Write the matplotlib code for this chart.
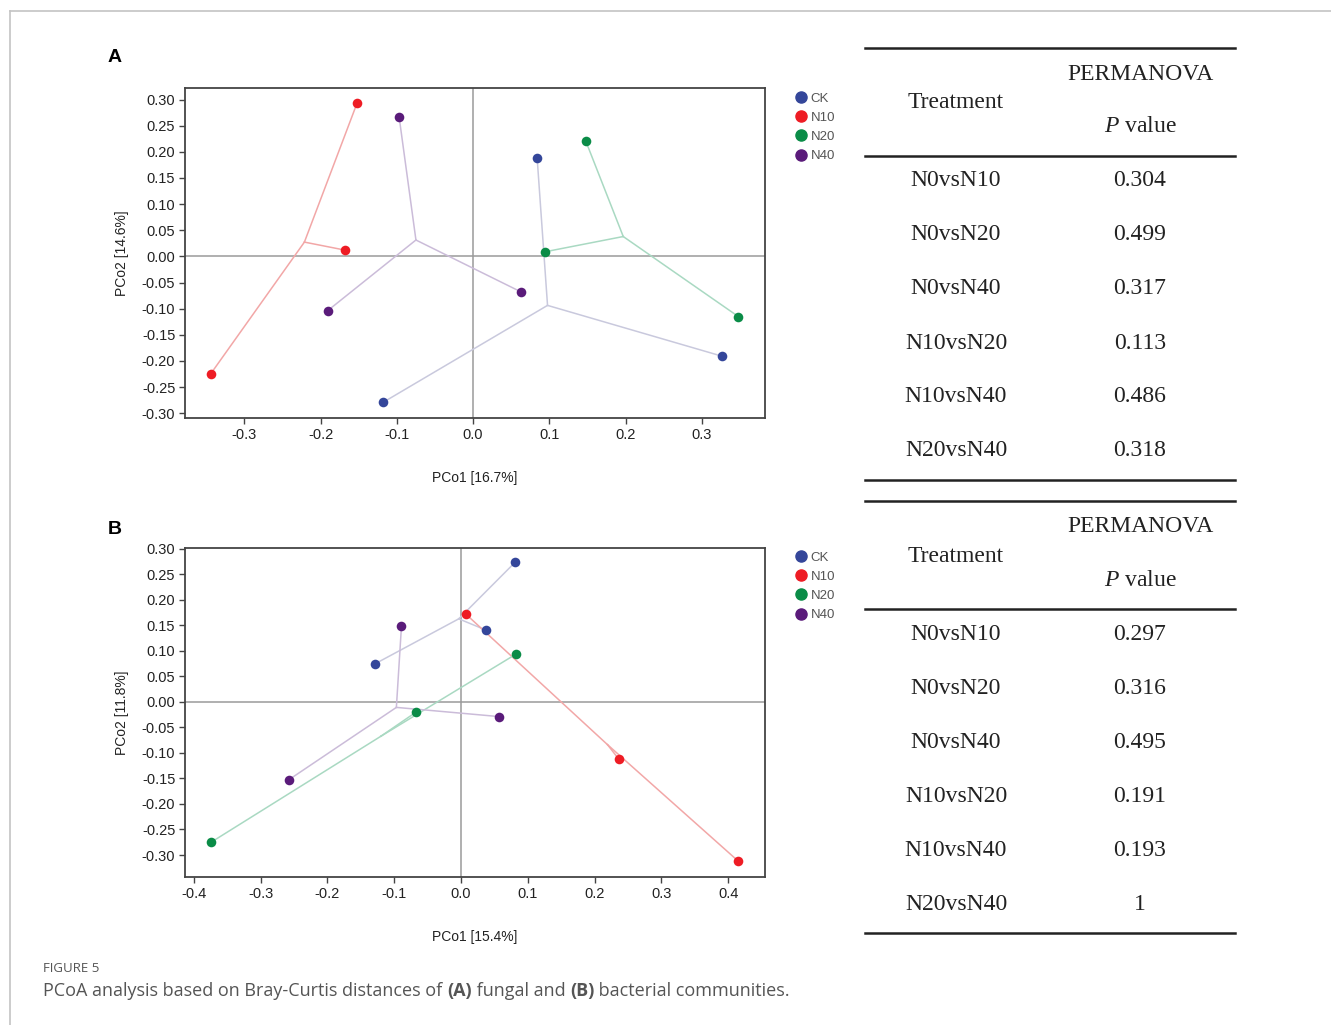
import numpy as np
import matplotlib
matplotlib.use('Agg')
import matplotlib.pyplot as plt
from matplotlib.lines import Line2D

plt.rcParams['axes.unicode_minus'] = False
plt.rcParams['font.family'] = ['Liberation Sans', 'DejaVu Sans']

W, H = 1331, 1025

# ---- data ----
groups = ['CK', 'N10', 'N20', 'N40']
colors = ['#34469a', '#ee1c24', '#0a8c47', '#5a1b7a']
line_colors = ['#c9c9dd', '#f2a7a7', '#a9d9c2', '#cbbcd9']

# panel A: fungal
a_x = {
    'CK':  [0.084, 0.327, -0.118],
    'N10': [-0.152, -0.168, -0.344],
    'N20': [0.148, 0.095, 0.348],
    'N40': [-0.097, -0.191, 0.063],
}
a_y = {
    'CK':  [0.189, -0.191, -0.279],
    'N10': [0.294, 0.012, -0.224],
    'N20': [0.220, 0.009, -0.115],
    'N40': [0.266, -0.104, -0.068],
}

# panel B: bacterial
b_x = {
    'CK':  [0.081, 0.038, -0.129],
    'N10': [0.007, 0.236, 0.415],
    'N20': [0.082, -0.067, -0.374],
    'N40': [-0.089, 0.057, -0.258],
}
b_y = {
    'CK':  [0.273, 0.140, 0.074],
    'N10': [0.172, -0.112, -0.312],
    'N20': [0.093, -0.020, -0.275],
    'N40': [0.149, -0.029, -0.153],
}

comparisons = ['N0vsN10', 'N0vsN20', 'N0vsN40', 'N10vsN20', 'N10vsN40', 'N20vsN40']
p_a = ['0.304', '0.499', '0.317', '0.113', '0.486', '0.318']
p_b = ['0.297', '0.316', '0.495', '0.191', '0.193', '1']


def fx(px):
    return px / W


def fy(py):
    return 1 - py / H


def fmt(v, nd):
    s = f'{v:.{nd}f}'
    return s[1:] if s.startswith('-') and float(s) == 0 else s


fig = plt.figure(figsize=(W / 100, H / 100), dpi=100)

# outer frame lines
fig.add_artist(Line2D([fx(10), 1], [fy(11), fy(11)], color='#c4c4c4', lw=1.2))
fig.add_artist(Line2D([fx(10), fx(10)], [fy(11), 0], color='#c4c4c4', lw=1.2))


def pcoa_panel(rect, xs, ys, xlim, ylim, xticks, xlabel, ylabel, label, label_y, leg_top):
    ax = fig.add_axes(rect)
    ax.axhline(0, color='#9a9a9a', lw=1.1, zorder=1)
    ax.axvline(0, color='#9a9a9a', lw=1.1, zorder=1)
    for g, c, lc in zip(groups, colors, line_colors):
        x = np.array(xs[g])
        y = np.array(ys[g])
        cx, cy = x.mean(), y.mean()
        for xi, yi in zip(x, y):
            ax.plot([xi, cx], [yi, cy], color=lc, lw=1.1, zorder=2)
        ax.scatter(x, y, s=48, color=c, zorder=3, linewidths=0)
    ax.set_xlim(*xlim)
    ax.set_ylim(*ylim)
    ax.set_xticks(xticks)
    ax.set_xticklabels([fmt(t, 1) for t in xticks])
    yt = np.round(np.arange(-0.30, 0.301, 0.05), 2)
    ax.set_yticks(yt)
    ax.set_yticklabels([fmt(t, 2) for t in yt])
    ax.tick_params(labelsize=10.5, length=4, width=1, color='#444444', labelcolor='#222222', pad=3)
    for s in ax.spines.values():
        s.set_color('#444444')
        s.set_linewidth(1.3)
    ax.set_xlabel(xlabel, fontsize=10, color='#222222', labelpad=21)
    ax.set_ylabel(ylabel, fontsize=10, color='#222222', labelpad=9)
    fig.text(fx(108), fy(label_y), label, fontsize=14, fontweight='bold', va='center', ha='left')
    handles = [Line2D([], [], marker='o', ls='', color=c, markersize=8) for c in colors]
    fig.legend(handles, groups, loc='upper left', bbox_to_anchor=(fx(786), fy(leg_top)),
               frameon=False, fontsize=9.5, labelcolor='#555555', handletextpad=0.15,
               labelspacing=0.52, borderpad=0, handlelength=1.2)
    return ax


pcoa_panel([fx(185), fy(418), fx(765) - fx(185), fy(88) - fy(418)], a_x, a_y,
           (-0.378, 0.383), (-0.309, 0.322), np.round(np.arange(-0.3, 0.31, 0.1), 1),
           'PCo1 [16.7%]', 'PCo2 [14.6%]', 'A', 57, 86)
pcoa_panel([fx(185), fy(877), fx(765) - fx(185), fy(548) - fy(877)], b_x, b_y,
           (-0.413, 0.455), (-0.343, 0.301), np.round(np.arange(-0.4, 0.41, 0.1), 1),
           'PCo1 [15.4%]', 'PCo2 [11.8%]', 'B', 530, 545)


def perm_table(top, pvals):
    serif = ['Liberation Serif', 'DejaVu Serif']
    fs = 17
    x0, x1 = fx(865), fx(1235)
    c1, c2 = fx(956), fx(1140)
    fig.add_artist(Line2D([x0, x1], [fy(top), fy(top)], color='#222222', lw=1.8))
    fig.add_artist(Line2D([x0, x1], [fy(top + 108), fy(top + 108)], color='#222222', lw=1.8))
    fig.add_artist(Line2D([x0, x1], [fy(top + 432), fy(top + 432)], color='#222222', lw=1.8))
    fig.text(c1, fy(top + 55), 'Treatment', family=serif, fontsize=fs, ha='center', va='center', color='#222222')
    fig.text(c2, fy(top + 26), 'PERMANOVA', family=serif, fontsize=fs, ha='center', va='center', color='#222222')
    fig.text(c2, fy(top + 79), r'$\it{P}$ value', family=serif, fontsize=fs, ha='center', va='center', color='#222222')
    for i, (cmp, pv) in enumerate(zip(comparisons, pvals)):
        yy = fy(top + 133 + i * 54)
        fig.text(c1, yy, cmp, family=serif, fontsize=fs, ha='center', va='center', color='#222222')
        fig.text(c2, yy, pv, family=serif, fontsize=fs, ha='center', va='center', color='#222222')


plt.rcParams['mathtext.fontset'] = 'custom'
plt.rcParams['mathtext.it'] = 'Liberation Serif:italic'
perm_table(48, p_a)
perm_table(501, p_b)

# caption
cap_font = ['Open Sans', 'DejaVu Sans']
fig.text(fx(43), fy(968), 'FIGURE 5', family=cap_font, fontsize=9.5, color='#555555', va='center')
pieces = [('PCoA analysis based on Bray-Curtis distances of ', 'normal'), ('(A)', 'bold'),
          (' fungal and ', 'normal'), ('(B)', 'bold'), (' bacterial communities.', 'normal')]
renderer = fig.canvas.get_renderer()
xpos = fx(43)
for txt, wt in pieces:
    t = fig.text(xpos, fy(991), txt, family=cap_font, fontsize=13, color='#555555',
                 fontweight=wt, va='center')
    bb = t.get_window_extent(renderer=renderer)
    xpos += bb.width / W

fig.savefig('out.png', dpi=100)
